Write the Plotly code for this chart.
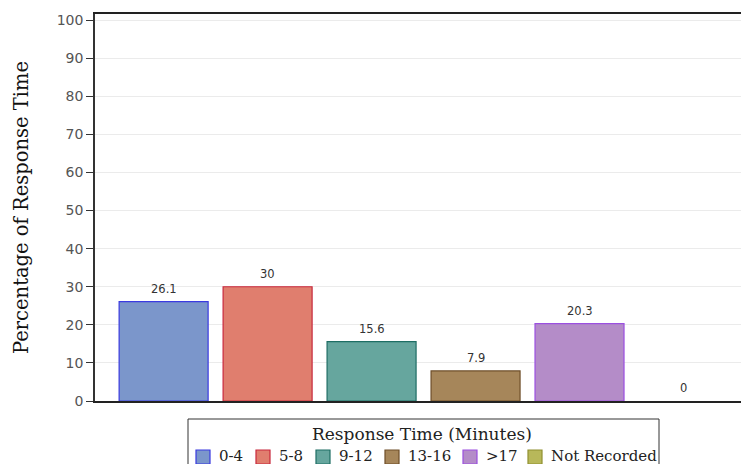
import plotly.graph_objects as go

categories = ["0-4", "5-8", "9-12", "13-16", ">17", "Not Recorded"]
percentages = [26.1, 30, 15.6, 7.9, 20.3, 0]
fill_colors = ["#7b96cb", "#e07e6e", "#66a69e", "#a6865a", "#b48cc8", "#b8b85a"]
line_colors = ["#3a3ae0", "#c8283c", "#1e6e64", "#6e4e28", "#9b4fe0", "#909030"]
y_ticks = [0, 10, 20, 30, 40, 50, 60, 70, 80, 90, 100]

SERIF = "DejaVu Serif"
SANS = "DejaVu Sans"

# page offset from the default body margin of the html page
OFF = 8
W, H = 749 - OFF, 464 - OFF
# plot area in page pixels, used to place the hand-drawn legend below the axis
L, R, T, B = 95, 749, 14, 401


def px_x(px):
    return (px - L) / (R - L)


def px_y(py):
    return (B - py) / (B - T)


fig = go.Figure()

for i, (cat, val) in enumerate(zip(categories, percentages)):
    fig.add_trace(go.Bar(
        x=[i], y=[val], name=cat, width=0.856,
        marker=dict(color=fill_colors[i],
                    line=dict(color=line_colors[i], width=1.2 if val else 0)),
        hovertemplate=f'{cat}: %{{y}}%<extra></extra>'
    ))
    fig.add_annotation(x=i, y=val, text=f"{val:g}", showarrow=False,
                       yanchor="bottom", yshift=4,
                       font=dict(family=SANS, size=11.5, color="#333333"))

# legend box, title and entries
fig.add_shape(type="rect", xref="paper", yref="paper",
              x0=px_x(188), x1=px_x(659), y0=px_y(474), y1=px_y(419),
              line=dict(color="#333333", width=1), fillcolor="white")
fig.add_annotation(xref="paper", yref="paper", x=px_x(422), y=px_y(434),
                   text="Response Time (Minutes)", showarrow=False,
                   xanchor="center", yanchor="middle",
                   font=dict(family=SERIF, size=17, color="#222222"))
swatch_left = [196, 256, 316, 385, 463, 528]
for i, cat in enumerate(categories):
    x0 = swatch_left[i]
    fig.add_shape(type="rect", xref="paper", yref="paper",
                  x0=px_x(x0), x1=px_x(x0 + 14), y0=px_y(464), y1=px_y(450),
                  line=dict(color=line_colors[i], width=1.2), fillcolor=fill_colors[i])
    fig.add_annotation(xref="paper", yref="paper", x=px_x(x0 + 21), y=px_y(456),
                       text=cat, showarrow=False, xanchor="left", yanchor="middle",
                       font=dict(family=SERIF, size=15, color="#222222"))

fig.update_layout(
    width=W, height=H,
    margin=dict(l=L - OFF, r=749 - R, t=T - OFF, b=464 - B),
    plot_bgcolor="white", paper_bgcolor="white",
    barmode="overlay",
    showlegend=False,
    xaxis=dict(
        range=[-0.66, 5.63], showticklabels=False, ticks="",
        showgrid=False, zeroline=False, automargin=False,
        showline=True, linecolor="#222222", linewidth=1.5, mirror=True,
    ),
    yaxis=dict(
        range=[0, 101.6], tickvals=y_ticks, ticks="outside", ticklen=7,
        tickcolor="#333333", showgrid=True, gridcolor="#ebebeb", gridwidth=1,
        zeroline=False, showline=True, linecolor="#333333", linewidth=1.5,
        automargin=False,
        tickfont=dict(family=SANS, size=14, color="#555555"),
        title=dict(text="Percentage of Response Time", standoff=23,
                   font=dict(family=SERIF, size=19.5, color="#111111")),
    ),
)

fig.write_html("out.html")
